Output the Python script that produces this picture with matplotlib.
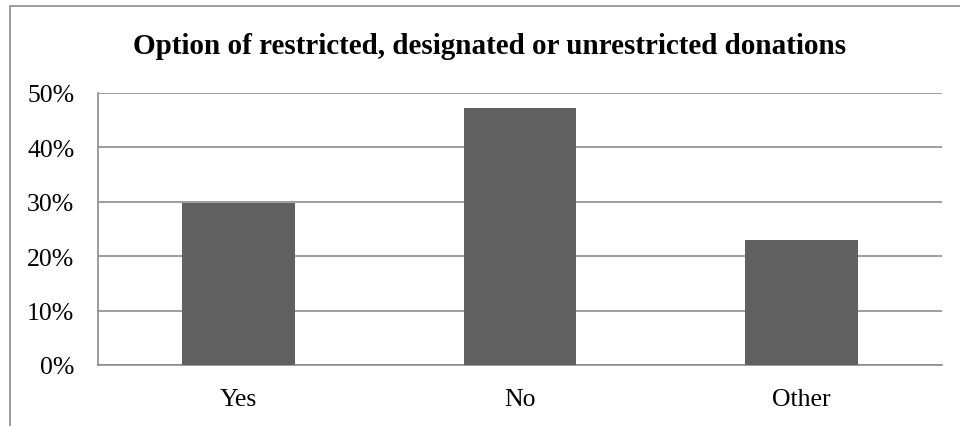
import matplotlib
matplotlib.use("Agg")
import matplotlib.pyplot as plt
from matplotlib.patches import Rectangle
from matplotlib.ticker import FuncFormatter

categories = ["Yes", "No", "Other"]
values = [29.7, 47.3, 23.0]
yticks = [0, 10, 20, 30, 40, 50]
title = "Option of restricted, designated or unrestricted donations"

plt.rcParams['font.family'] = ['Liberation Serif', 'DejaVu Serif']

W, H = 960, 427
fig = plt.figure(figsize=(W/100, H/100), dpi=100)
fig.patch.set_facecolor('white')

# outer chart border (left and top visible)
fig.add_artist(Rectangle((10/W, -0.1), 1.2, 1 - 7/H + 0.1, transform=fig.transFigure,
                         fill=False, edgecolor='#8c8c8c', linewidth=1.2))

left, right, top, bottom = 98, 942, 94, 366
ax = fig.add_axes([left/W, 1 - bottom/H, (right-left)/W, (bottom-top)/H])

x = range(len(categories))
ax.bar(x, values, width=0.4, color='#606060', zorder=3)
ax.set_xlim(-0.5, len(categories) - 0.5)
ax.set_ylim(0, 50)
ax.set_yticks(yticks)
ax.yaxis.set_major_formatter(FuncFormatter(lambda v, p: f"{int(v)}%"))
ax.set_xticks(list(x))
ax.set_xticklabels(categories)
ax.grid(axis='y', color='#8c8c8c', linewidth=1.2, zorder=0)
for s in ['top', 'right']:
    ax.spines[s].set_visible(False)
for s in ['left', 'bottom']:
    ax.spines[s].set_color('#8c8c8c')
    ax.spines[s].set_linewidth(1.2)
ax.tick_params(axis='both', length=0, labelsize=18.5, colors='black')
ax.tick_params(axis='y', pad=17)
ax.tick_params(axis='x', pad=16.5)

fig.text(490/W, 1 - 47/H, title, ha='center', va='center', fontsize=21, fontweight='bold')

fig.savefig("out.png", dpi=100)
